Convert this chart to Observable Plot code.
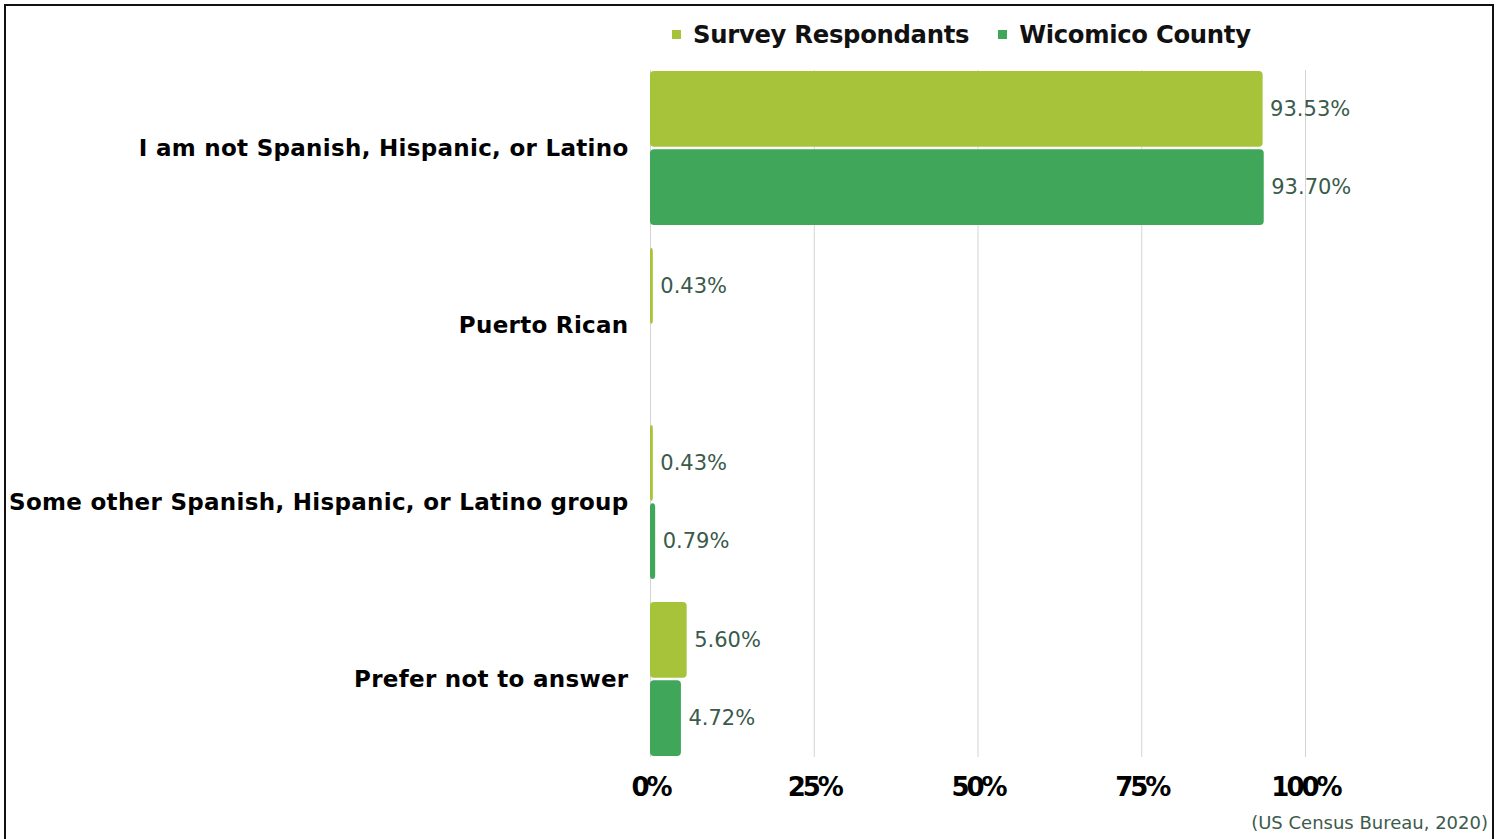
<!DOCTYPE html>
<html>
<head>
<meta charset="utf-8">
<script src="https://cdn.jsdelivr.net/npm/d3@7"></script>
<script src="https://cdn.jsdelivr.net/npm/@observablehq/plot@0.6"></script>
<style>
  html, body { margin: 0; padding: 0; background: #fff; width: 1502px; height: 839px; overflow: hidden; }
  body { position: relative; font-family: "DejaVu Sans", Verdana, sans-serif; }
  #frame { position: absolute; left: 4px; top: 4px; width: 1490px; height: 900px; border: 2px solid #111; box-sizing: border-box; }
  #legend { position: absolute; left: 672px; top: 18px; height: 32px; display: flex; align-items: center; font-weight: bold; font-size: 24.3px; letter-spacing: -0.3px; color: #111; }
  #legend .item { display: flex; align-items: center; margin-right: 29px; }
  #legend .sw { width: 9px; height: 9px; margin-right: 12px; }
  #chart { position: absolute; left: 0; top: 50px; }
  #caption { position: absolute; right: 14px; top: 812px; font-size: 18px; color: #3d5a4c; }
  [aria-label="x-axis tick label"] text { font-weight: bold; font-size: 26px; letter-spacing: -3px; fill: #000; }
  [aria-label="y-axis tick label"] text { font-weight: bold; font-size: 23px; letter-spacing: 0.3px; fill: #000; }
</style>
</head>
<body>
<div id="frame"></div>
<div id="legend"></div>
<div id="chart"></div>
<div id="caption"></div>
<script>
const categories = [
  "I am not Spanish, Hispanic, or Latino",
  "Puerto Rican",
  "Some other Spanish, Hispanic, or Latino group",
  "Prefer not to answer"
];
const surveyValues = [93.53, 0.43, 0.43, 5.60];
const countyValues = [93.70, null, 0.79, 4.72];
const seriesNames = ["Survey Respondants", "Wicomico County"];
const seriesColors = ["#a6c33a", "#40a65a"];
const xTicks = [0, 25, 50, 75, 100];
const captionText = "(US Census Bureau, 2020)";

// legend
const legend = document.getElementById("legend");
seriesNames.forEach((name, i) => {
  const item = document.createElement("div");
  item.className = "item";
  const sw = document.createElement("span");
  sw.className = "sw";
  sw.style.background = seriesColors[i];
  const t = document.createElement("span");
  t.textContent = name;
  item.appendChild(sw); item.appendChild(t);
  legend.appendChild(item);
});
document.getElementById("caption").textContent = captionText;

const survey = categories.map((c, i) => ({category: c, value: surveyValues[i]})).filter(d => d.value != null);
const county = categories.map((c, i) => ({category: c, value: countyValues[i]})).filter(d => d.value != null);

const W = 1502, H = 780;
const marginTop = 20, marginBottom = 73;
const padInner = 0.13;
const frameH = H - marginTop - marginBottom;
const step = frameH / (categories.length - padInner);
const half = step * (1 - padInner) / 2;
const gap = 1;
const labelOffset = half / 2 + 0.5;
const fmt = v => v.toFixed(2) + "%";

const chart = Plot.plot({
  width: W,
  height: H,
  marginLeft: 650,
  marginRight: 66,
  marginTop,
  marginBottom,
  style: {fontFamily: "'DejaVu Sans', Verdana, sans-serif", background: "transparent", overflow: "visible"},
  x: {domain: [0, 120], label: null},
  y: {domain: categories, paddingInner: padInner, paddingOuter: 0, align: 0.5, label: null},
  marks: [
    Plot.ruleX(xTicks, {stroke: "#d4d4d4", strokeWidth: 1}),
    Plot.barX(survey, {x: "value", y: "category", fill: seriesColors[0], insetBottom: half + gap, rx: 4}),
    Plot.barX(county, {x: "value", y: "category", fill: seriesColors[1], insetTop: half + gap, rx: 4}),
    Plot.text(survey, {x: "value", y: "category", text: d => fmt(d.value), dy: -labelOffset, dx: 7, textAnchor: "start", fill: "#3a5a4b", fontSize: 21}),
    Plot.text(county, {x: "value", y: "category", text: d => fmt(d.value), dy: labelOffset, dx: 7, textAnchor: "start", fill: "#3a5a4b", fontSize: 21}),
    Plot.axisX({ticks: xTicks, tickFormat: d => d + "%", tickSize: 0, tickPadding: 20, anchor: "bottom", label: null}),
    Plot.axisY({tickSize: 0, tickPadding: 22, anchor: "left", label: null})
  ]
});
document.getElementById("chart").appendChild(chart);
</script>
</body>
</html>
